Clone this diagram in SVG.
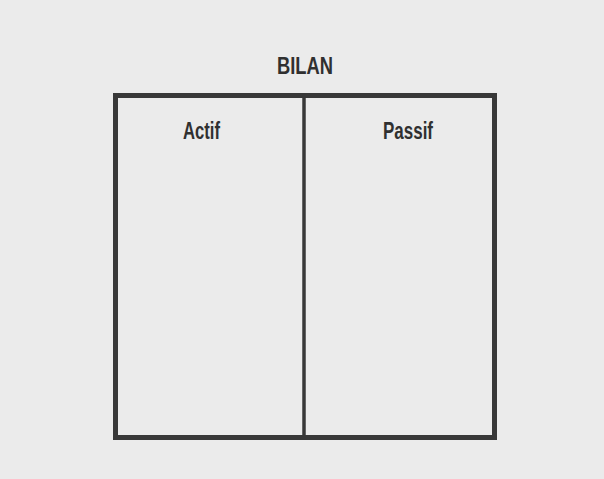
<svg xmlns="http://www.w3.org/2000/svg" width="604" height="479" viewBox="0 0 604 479">
<style>
.lbl{font-family:"Liberation Sans",Arial,sans-serif;font-weight:bold;font-size:24px;fill:#303030}
.frame{fill:none;stroke:#383838}
</style>
<rect x="0" y="0" width="604" height="479" fill="#ebebeb"/>
<g id="title"><text class="lbl" x="277" y="74" textLength="56" lengthAdjust="spacingAndGlyphs">BILAN</text></g>
<g id="bilan-box">
<rect class="frame" x="115.5" y="95.5" width="379" height="342" stroke-width="5"/>
</g>
<g id="connectors">
<line class="frame" x1="304" y1="96" x2="304" y2="437" stroke-width="3.5"/>
</g>
<g id="actif"><text class="lbl" x="183" y="139" textLength="37" lengthAdjust="spacingAndGlyphs">Actif</text></g>
<g id="passif"><text class="lbl" x="383" y="139" textLength="50" lengthAdjust="spacingAndGlyphs">Passif</text></g>
</svg>
